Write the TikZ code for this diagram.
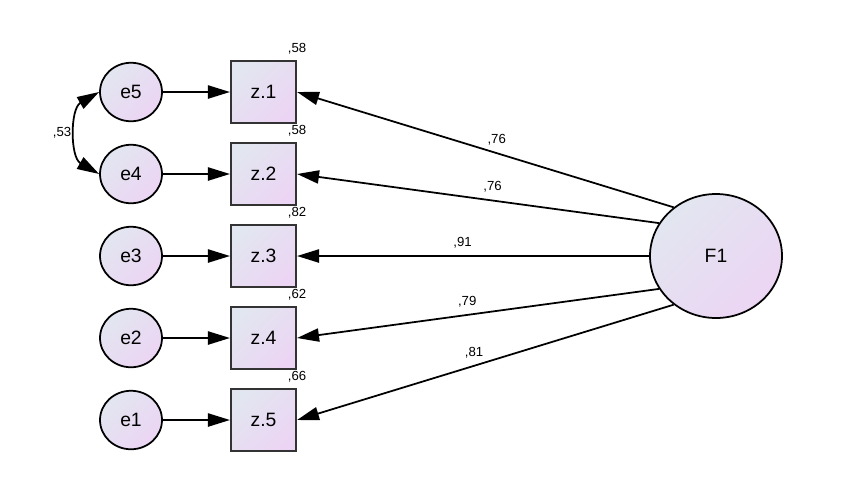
\documentclass[tikz,border=0pt]{standalone}
\usepackage{fontspec}
\setmainfont{Liberation Sans}
\usetikzlibrary{arrows.meta,shapes.geometric,positioning}
\definecolor{fondoA}{RGB}{226,230,240}
\definecolor{fondoB}{RGB}{236,213,244}
\tikzset{
    error/.style={ellipse, draw, line width=1pt, minimum width=1.24cm, minimum height=1.17cm, inner sep=0pt,
        top color=fondoA, bottom color=fondoB, shading angle=45, font=\fontsize{11}{13}\selectfont},
    obs/.style={rectangle, draw=black!80, line width=1.2pt, minimum width=1.3cm, minimum height=1.24cm, inner sep=0pt,
        top color=fondoA, bottom color=fondoB, shading angle=45, font=\fontsize{11}{13}\selectfont},
    factor/.style={ellipse, draw, line width=1pt, minimum width=2.64cm, minimum height=2.48cm, inner sep=0pt,
        top color=fondoA, bottom color=fondoB, shading angle=45, font=\fontsize{11}{13}\selectfont},
    flecha/.style={line width=1pt, -{Triangle[length=12.5pt,width=7.5pt]}},
    cov/.style={line width=1pt, {Triangle[length=12.5pt,width=7.5pt]}-{Triangle[length=12.5pt,width=7.5pt]}},
    peso/.style={font=\fontsize{7.5}{9}\selectfont, inner sep=1pt},
}
\begin{document}
\begin{tikzpicture} %Modelo de un factor
        \useasboundingbox (0,0) rectangle (16.98,-9.72);

        \node[error] (e5) at (2.62,-1.84) {e5};
        \node[error] (e4) at (2.62,-3.48) {e4};
        \node[error] (e3) at (2.62,-5.12) {e3};
        \node[error] (e2) at (2.62,-6.76) {e2};
        \node[error] (e1) at (2.62,-8.40) {e1};

        \node[obs] (z1) at (5.27,-1.84) {z.1};
        \node[obs] (z2) at (5.27,-3.48) {z.2};
        \node[obs] (z3) at (5.27,-5.12) {z.3};
        \node[obs] (z4) at (5.27,-6.76) {z.4};
        \node[obs] (z5) at (5.27,-8.40) {z.5};

        \node[factor] (F1) at (14.32,-5.12) {F1};

        \draw[flecha] (e5) -- (z1);
        \draw[flecha] (e4) -- (z2);
        \draw[flecha] (e3) -- (z3);
        \draw[flecha] (e2) -- (z4);
        \draw[flecha] (e1) -- (z5);

        \draw[cov] (e5.west) to[bend right=60, looseness=1.05] node[peso, left=2pt] (c54) {,53} (e4.west);

        \draw[flecha] (F1.131) -- node[peso, above=3pt, pos=0.47] (p1) {,76} (z1.east);
        \draw[flecha] (F1.150) -- node[peso, above=3pt, pos=0.46] (p2) {,76} (z2.east);
        \draw[flecha] (F1.180) -- node[peso, above=3pt, pos=0.53] (p3) {,91} (z3.east);
        \draw[flecha] (F1.210) -- node[peso, above=3pt, pos=0.53] (p4) {,79} (z4.east);
        \draw[flecha] (F1.229) -- node[peso, above=3pt, pos=0.53] (p5) {,81} (z5.east);

        \node[peso, above=2pt] (r1) at (z1.north east) {,58};
        \node[peso, above=2pt] (r2) at (z2.north east) {,58};
        \node[peso, above=2pt] (r3) at (z3.north east) {,82};
        \node[peso, above=2pt] (r4) at (z4.north east) {,62};
        \node[peso, above=2pt] (r5) at (z5.north east) {,66};
    \end{tikzpicture}
\end{document}
